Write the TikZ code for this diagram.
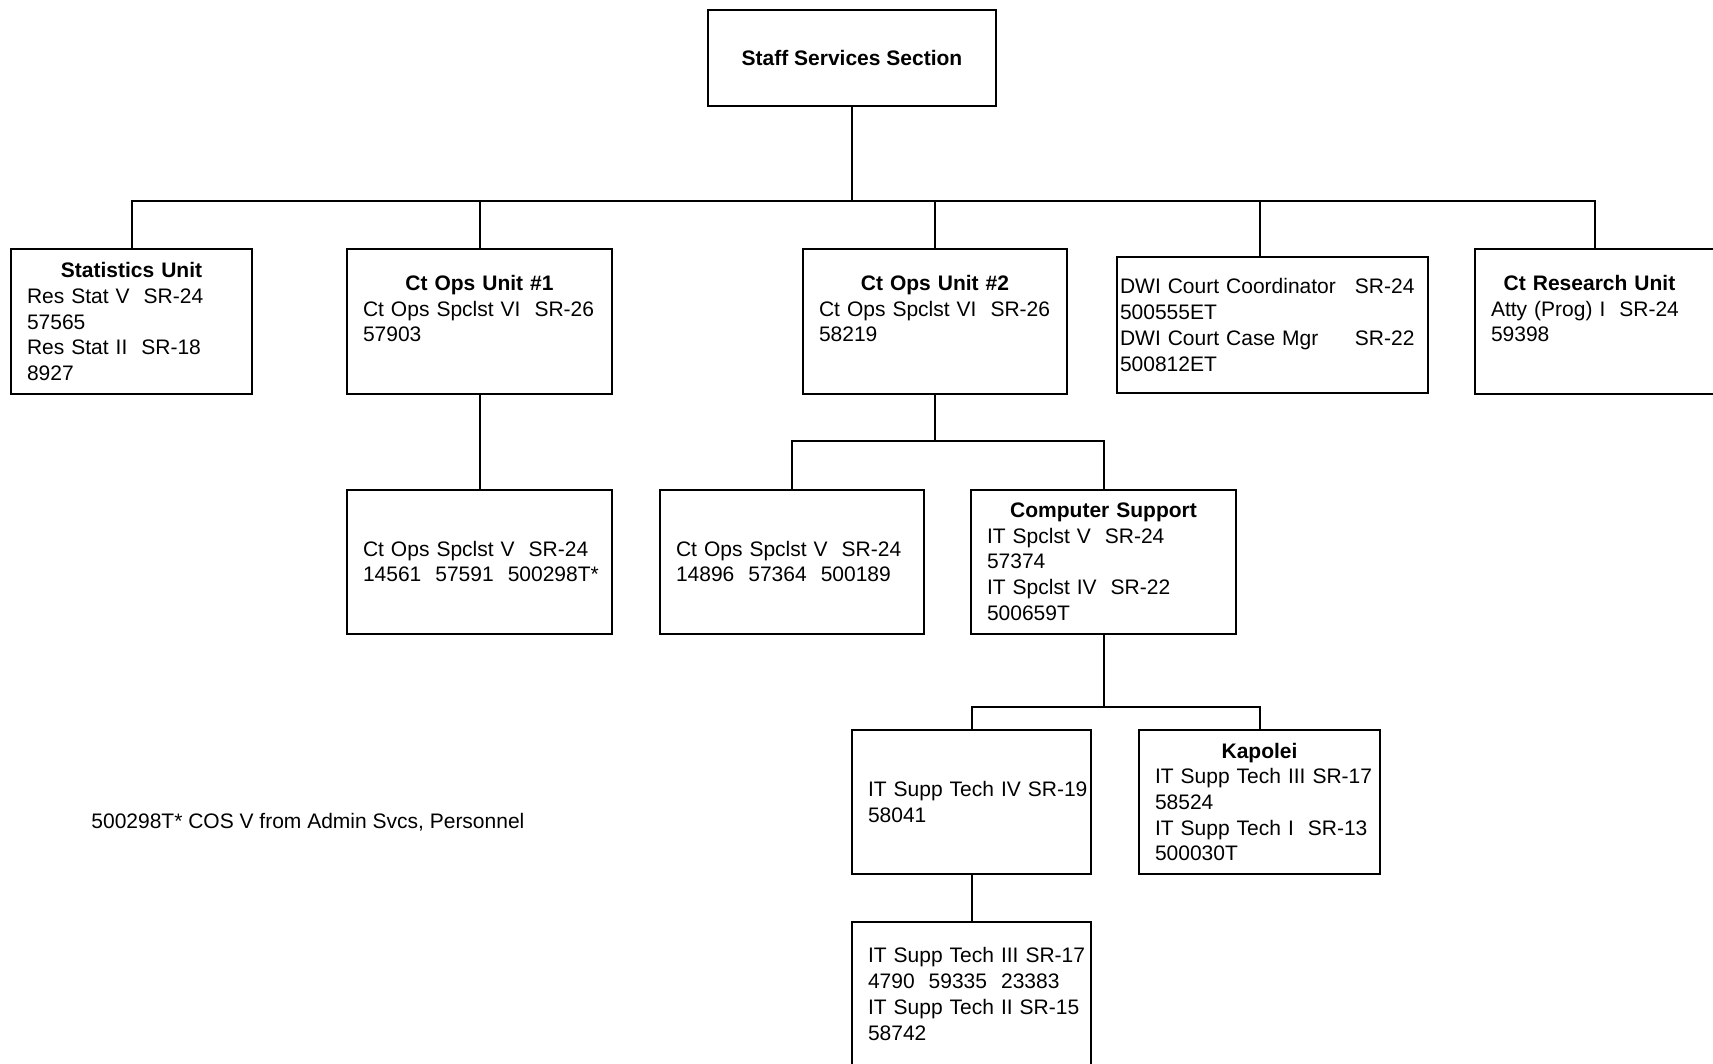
\documentclass[tikz,border=0pt]{standalone}
\usepackage{fontspec}
\setmainfont{Liberation Sans}
\usepackage{tikz}
\usetikzlibrary{positioning}
\tikzstyle{unit} = [rectangle, draw=black, line width=1pt, inner xsep=0.5pt, inner ysep=0pt, minimum height=72pt, align=left, font=\fontsize{10.5}{12.85}\selectfont]
\tikzstyle{link} = [line width=1pt]
\newcommand{\unittext}[1]{\leftskip=7.5pt\relax #1\par}
\newcommand{\unithead}[1]{\makebox[\dimexpr\linewidth-2\leftskip\relax]{\textbf{#1}}}

\begin{document}
\begin{tikzpicture}[x=0.5pt, y=-0.5pt]
    \useasboundingbox (0,0) rectangle (1713,1064);
    \node(top)[unit, minimum width=144pt, minimum height=48pt, align=center] at (852,58) {\textbf{Staff Services Section}};
    \coordinate(hub) at (852,201);
    \node(stat)[unit, text width=119.5pt] at (131.5,321.5) {\unittext{\unithead{Statistics Unit}\\ Res Stat V~~SR-24\\ 57565\\ Res Stat II~~SR-18\\ 8927}};
    \node(ops1)[unit, text width=131.5pt] at (479.5,321.5) {\unittext{\unithead{Ct Ops Unit \#1}\\ Ct Ops Spclst VI~~SR-26\\ 57903\\ \mbox{}}};
    \node(ops2)[unit, text width=131pt] at (935,321.5) {\unittext{\unithead{Ct Ops Unit \#2}\\ Ct Ops Spclst VI~~SR-26\\ 58219\\ \mbox{}}};
    \node(dwi)[unit, text width=152.5pt, inner xsep=1.5pt, minimum height=68pt] at (1272.5,325) {\makebox[117.5pt][l]{DWI Court Coordinator}SR-24\\ 500555ET\\ \makebox[117.5pt][l]{DWI Court Case Mgr}SR-22\\ 500812ET};
    \node(cres)[unit, text width=131.5pt] at (1607.5,321.5) {\unittext{\hspace*{-9pt}\unithead{Ct Research Unit}\\ Atty (Prog) I~~SR-24\\ 59398\\ \mbox{}}};
    \node(sp1)[unit, text width=131.5pt] at (479.5,561.5) {\unittext{Ct Ops Spclst V~~SR-24\\ 14561~~57591~~500298T*}};
    \node(sp2)[unit, text width=131pt] at (792,561.5) {\unittext{Ct Ops Spclst V~~SR-24\\ 14896~~57364~~500189}};
    \node(comp)[unit, text width=131.5pt] at (1103.5,561.5) {\unittext{\unithead{Computer Support}\\ IT Spclst V~~SR-24\\ 57374\\ IT Spclst IV~~SR-22\\ 500659T}};
    \coordinate(bus2) at (935,441);
    \node(tech4)[unit, text width=118.5pt] at (971.5,802) {\unittext{IT Supp Tech IV SR-19\\ 58041}};
    \node(kap)[unit, text width=119.5pt] at (1259.5,802) {\unittext{\unithead{Kapolei}\\ IT Supp Tech III SR-17\\ 58524\\ IT Supp Tech I~~SR-13\\ 500030T}};
    \coordinate(bus3) at (1103.5,707);
    \node(tech3)[unit, text width=118.5pt] at (971.5,994) {\unittext{IT Supp Tech III SR-17\\ 4790~~59335~~23383\\ IT Supp Tech II SR-15\\ 58742}};
    \node(note)[anchor=west, inner sep=0pt, font=\fontsize{10.5}{12.85}\selectfont] at (91,822) {500298T* COS V from Admin Svcs, Personnel};
    \draw[link](top)--(hub);
    \draw[link](stat.north) |- (hub) -| ([xshift=-6.25pt]cres.north);
    \draw[link](ops1.north)--(ops1.north |- hub);
    \draw[link](ops2.north)--(ops2.north |- hub);
    \draw[link]([xshift=-6.25pt]dwi.north)--([xshift=-6.25pt]dwi.north |- hub);
    \draw[link](ops1)--(sp1);
    \draw[link](ops2.south)--(bus2);
    \draw[link](sp2.north) |- (bus2) -| (comp.north);
    \draw[link](comp.south)--(bus3);
    \draw[link](tech4.north) |- (bus3) -| (kap.north);
    \draw[link](tech4)--(tech3);
  \end{tikzpicture}
\end{document}
